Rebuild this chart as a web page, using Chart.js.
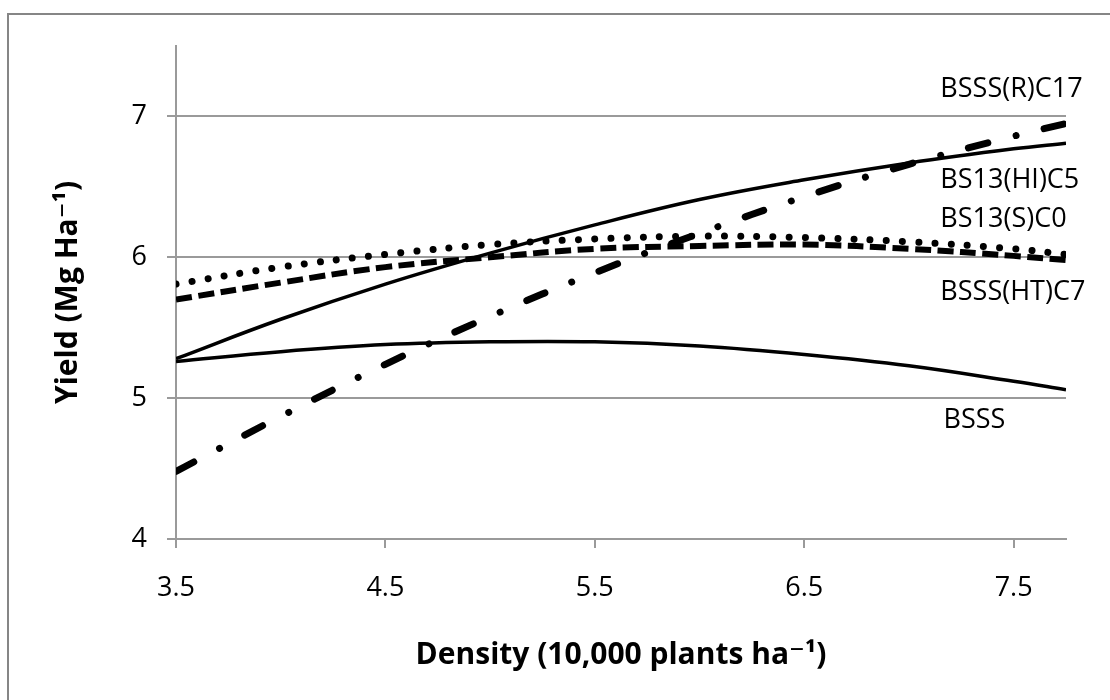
<!DOCTYPE html>
<html>
<head>
<meta charset="utf-8">
<script src="https://cdn.jsdelivr.net/npm/chart.js@4.4.1/dist/chart.umd.min.js"></script>
<style>
  html, body { margin: 0; padding: 0; background: #fff; }
  #wrap { position: relative; width: 1110px; height: 700px; overflow: hidden; }
  #frame { position: absolute; left: 7px; top: 13px; width: 1200px; height: 800px;
           border-left: 2px solid #868686; border-top: 2px solid #868686; }
  canvas { position: absolute; left: 0; top: 0; }
</style>
</head>
<body>
<div id="wrap">
  <div id="frame"></div>
  <canvas id="grafico" width="1110" height="700"></canvas>
</div>
<script>
// densidade (10,000 plantas/ha)
const densidade = [3.5, 4.0, 4.5, 5.0, 5.5, 6.0, 6.5, 7.0, 7.5, 7.75];

// rendimento (Mg/ha)
const bsssR_C17  = [4.48, 4.87, 5.24, 5.58, 5.89, 6.17, 6.43, 6.66, 6.86, 6.95];
const bs13HI_C5  = [5.28, 5.56, 5.81, 6.03, 6.23, 6.41, 6.55, 6.67, 6.77, 6.81];
const bs13S_C0   = [5.81, 5.93, 6.02, 6.09, 6.13, 6.15, 6.14, 6.11, 6.06, 6.02];
const bsssHT_C7  = [5.70, 5.82, 5.93, 6.00, 6.06, 6.08, 6.09, 6.06, 6.01, 5.98];
const bsss       = [5.26, 5.33, 5.38, 5.40, 5.40, 5.37, 5.31, 5.23, 5.12, 5.06];

const nomes = ['BSSS(R)C17', 'BS13(HI)C5', 'BS13(S)C0', 'BSSS(HT)C7', 'BSSS'];

const xTicks = [3.5, 4.5, 5.5, 6.5, 7.5];
const yTicks = [4, 5, 6, 7];

// onde ficam os rótulos das linhas (coordenadas do gráfico)
const rotulosX = [7.15, 7.15, 7.15, 7.15, 7.165];
const rotulosY = [7.19, 6.546, 6.27, 5.752, 4.844];

const CINZA = '#9a9a9a';
const FONTE = "'Open Sans', 'DejaVu Sans', sans-serif";

function pontos(ys) {
    return ys.map((y, i) => ({ x: densidade[i], y: y }));
}

const estilos = [
    { borderWidth: 7, borderDash: [20, 29, 0.01, 29], borderCapStyle: 'round' },
    { borderWidth: 3.5, borderDash: [] },
    { borderWidth: 7, borderDash: [0.01, 16.2], borderCapStyle: 'round' },
    { borderWidth: 6, borderDash: [16, 6.5] },
    { borderWidth: 3.5, borderDash: [] }
];

const series = [bsssR_C17, bs13HI_C5, bs13S_C0, bsssHT_C7, bsss];

const datasets = series.map((s, i) => Object.assign({
    label: nomes[i],
    data: pontos(s),
    borderColor: '#000',
    pointRadius: 0,
    tension: 0.4,
    fill: false
}, estilos[i]));

const rotulosPlugin = {
    id: 'rotulos',
    afterDatasetsDraw(chart) {
        const ctx = chart.ctx;
        const sx = chart.scales.x, sy = chart.scales.y;
        ctx.save();
        ctx.font = '27px ' + FONTE;
        ctx.fillStyle = '#000';
        ctx.textAlign = 'left';
        ctx.textBaseline = 'middle';
        nomes.forEach((n, i) => {
            ctx.fillText(n, sx.getPixelForValue(rotulosX[i]), sy.getPixelForValue(rotulosY[i]));
        });
        ctx.restore();
    }
};

const ctx = document.getElementById('grafico').getContext('2d');
new Chart(ctx, {
    type: 'line',
    data: { datasets: datasets },
    options: {
        responsive: false,
        animation: false,
        layout: { padding: { left: 0, right: 44, top: 46, bottom: 0 } },
        plugins: { legend: { display: false }, tooltip: { enabled: false } },
        scales: {
            x: {
                type: 'linear',
                min: 3.5,
                max: 7.75,
                afterBuildTicks: axis => { axis.ticks = xTicks.map(v => ({ value: v })); },
                afterFit: axis => { axis.height = 161; },
                grid: { drawOnChartArea: false, drawTicks: true, tickLength: 9, color: CINZA, lineWidth: 2 },
                border: { color: CINZA, width: 2 },
                ticks: {
                    color: '#000',
                    padding: 24,
                    maxRotation: 0,
                    font: { family: FONTE, size: 27 },
                    callback: v => v.toFixed(1)
                },
                title: {
                    display: true,
                    text: 'Density (10,000 plants ha⁻¹)',
                    color: '#000',
                    font: { family: FONTE, size: 30, weight: 'bold' },
                    padding: { top: 0, bottom: 27 }
                }
            },
            y: {
                min: 4,
                max: 7.5,
                afterBuildTicks: axis => { axis.ticks = yTicks.map(v => ({ value: v })); },
                afterFit: axis => { axis.width = 176; },
                grid: { drawOnChartArea: true, drawTicks: true, tickLength: 9, color: CINZA, lineWidth: 2 },
                border: { color: CINZA, width: 2 },
                ticks: {
                    color: '#000',
                    padding: 20,
                    font: { family: FONTE, size: 27 }
                },
                title: {
                    display: true,
                    text: 'Yield (Mg Ha⁻¹)',
                    color: '#000',
                    font: { family: FONTE, size: 30, weight: 'bold' },
                    padding: { top: 50, bottom: 0 }
                }
            }
        }
    },
    plugins: [rotulosPlugin]
});
</script>
</body>
</html>
